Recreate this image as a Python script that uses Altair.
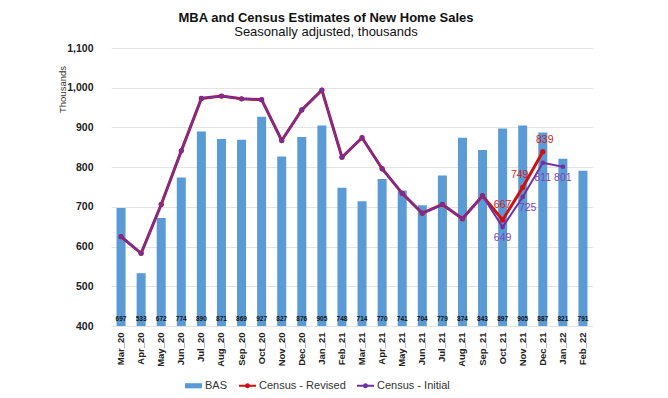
import altair as alt
import pandas as pd

months = ["Mar_20", "Apr_20", "May_20", "Jun_20", "Jul_20", "Aug_20", "Sep_20", "Oct_20",
          "Nov_20", "Dec_20", "Jan_21", "Feb_21", "Mar_21", "Apr_21", "May_21", "Jun_21",
          "Jul_21", "Aug_21", "Sep_21", "Oct_21", "Nov_21", "Dec_21", "Jan_22", "Feb_22"]
bas = [697, 533, 672, 774, 890, 871, 869, 927, 827, 876, 905, 748, 714, 770, 741, 704,
       779, 874, 843, 897, 905, 887, 821, 791]
revised = [625, 583, 706, 841, 973, 979, 972, 970, 867, 944, 994, 825, 874, 796, 734, 684,
           706, 670, 728, 667, 749, 839]
initial = [625, 583, 706, 841, 973, 979, 972, 970, 867, 944, 994, 825, 874, 796, 734, 684,
           706, 670, 728, 649, 725, 811, 801]
y_ticks = [400, 500, 600, 700, 800, 900, 1000, 1100]

series_names = ["BAS", "Census - Revised", "Census - Initial"]
series_colors = ["#5B9BD5", "#CC1111", "#7030A0"]

# which points carry a value label, and label offsets (style only)
rev_label_idx = [19, 20, 21]
rev_label_off = [(0, -15), (-3, -12), (2, -12)]
ini_label_idx = [19, 20, 21, 22]
ini_label_off = [(0, 11), (5, 11), (0, 15), (0, 11)]

FONT = "Liberation Sans"
BAR_C, REV_C, INI_C = series_colors
REV_TXT = "#D0201A"
INI_TXT = "#7B45B8"

bar_df = pd.DataFrame({"month": months, "value": bas})
rev_df = pd.DataFrame({"month": months[:len(revised)], "value": revised})
ini_df = pd.DataFrame({"month": months[:len(initial)], "value": initial})
legend_df = pd.DataFrame({"series": series_names})

x_enc = alt.X("month:N", sort=months,
              scale=alt.Scale(domain=months, paddingInner=0, paddingOuter=0),
              axis=alt.Axis(title=None, labelAngle=270, labelFontSize=9.5, labelFontWeight="bold",
                            labelFont=FONT, labelColor="#222222", labelPadding=6,
                            ticks=False, domain=False, grid=False))
y_scale = alt.Scale(domain=[400, 1100], zero=False, nice=False)
y_axis = alt.Axis(title="Thousands", values=y_ticks, format=",.0f", tickCount=8,
                  labelOverlap=False,
                  labelFontSize=10.5, labelFontWeight="bold", labelFont=FONT,
                  labelColor="#222222", labelPadding=18, ticks=False, domain=False,
                  gridColor="#E3E3E3", titleFont=FONT, titleFontSize=9.5,
                  titleFontWeight="normal", titleColor="#333333",
                  titleX=-44, titleY=41)
y_enc = alt.Y("value:Q", scale=y_scale, axis=y_axis)
y_base = alt.YDatum(400, type="quantitative", scale=y_scale, axis=y_axis)

bars = alt.Chart(bar_df).mark_bar(size=9, color=BAR_C).encode(
    x=x_enc, y=y_enc, y2=alt.datum(400))

bar_text = alt.Chart(bar_df).mark_text(fontSize=6.5, fontWeight="bold", font=FONT,
                                       color="#111111", dy=-7).encode(
    x=x_enc, y=y_base, text="value:Q")

rev_line = alt.Chart(rev_df).mark_line(color=REV_C, strokeWidth=3).encode(
    x=x_enc, y=y_enc)
ini_line = alt.Chart(ini_df).mark_line(color=INI_C, strokeWidth=2).encode(
    x=x_enc, y=y_enc)
rev_pts = alt.Chart(rev_df).mark_circle(color=REV_C, size=28, opacity=1).encode(
    x=x_enc, y=y_enc)
ini_pts = alt.Chart(ini_df).mark_circle(color=INI_C, size=22, opacity=1).encode(
    x=x_enc, y=y_enc)

labels = []
for idx, (dx, dy) in zip(rev_label_idx, rev_label_off):
    labels.append(alt.Chart(rev_df.iloc[[idx]]).mark_text(
        fontSize=10.5, font=FONT, color=REV_TXT, dx=dx, dy=dy).encode(
        x=x_enc, y=y_enc, text="value:Q"))
for idx, (dx, dy) in zip(ini_label_idx, ini_label_off):
    labels.append(alt.Chart(ini_df.iloc[[idx]]).mark_text(
        fontSize=10.5, font=FONT, color=INI_TXT, dx=dx, dy=dy).encode(
        x=x_enc, y=y_enc, text="value:Q"))

bas_path = "M-1,-0.3H1V0.3H-1Z"
line_path = ("M-1,-0.12H1V0.12H-1Z "
             "M-0.3,0A0.3,0.3 0 1,1 0.3,0A0.3,0.3 0 1,1 -0.3,0Z")

leg_props = dict(title=None, orient="none", legendX=74, legendY=329, direction="horizontal",
                 symbolSize=289, symbolStrokeWidth=0, labelFontSize=11, labelFont=FONT,
                 labelColor="#333333", labelOffset=3, columnPadding=11, padding=0,
                 symbolOpacity=1)

# legend-only layer, drawn outside the visible canvas (left of the page)
legend_layer = alt.Chart(legend_df).mark_point(filled=True, opacity=1).encode(
    x=alt.value(-700), y=alt.value(150),
    color=alt.Color("series:N", scale=alt.Scale(domain=series_names, range=series_colors),
                    legend=alt.Legend(**leg_props)),
    shape=alt.Shape("series:N", scale=alt.Scale(domain=series_names,
                                                range=[bas_path, line_path, line_path]),
                    legend=alt.Legend(**leg_props)))

chart = alt.layer(bars, bar_text, rev_line, ini_line, rev_pts, ini_pts, *labels,
                  legend_layer).properties(
    width=482, height=278,
    title=alt.TitleParams(text="MBA and Census Estimates of New Home Sales",
                          subtitle="Seasonally adjusted, thousands",
                          font=FONT, fontSize=13, fontWeight="bold", color="#111111",
                          subtitleFont=FONT, subtitleFontSize=13, subtitleColor="#111111",
                          subtitlePadding=1, anchor="middle", frame="group", dx=-26,
                          offset=4),
    autosize=alt.AutoSizeParams(type="none"),
    padding={"left": 103, "top": 40, "right": 67, "bottom": 64},
    background="white",
).configure_view(stroke=None)

chart.save("out.html", embed_options={"renderer": "svg", "actions": False})
